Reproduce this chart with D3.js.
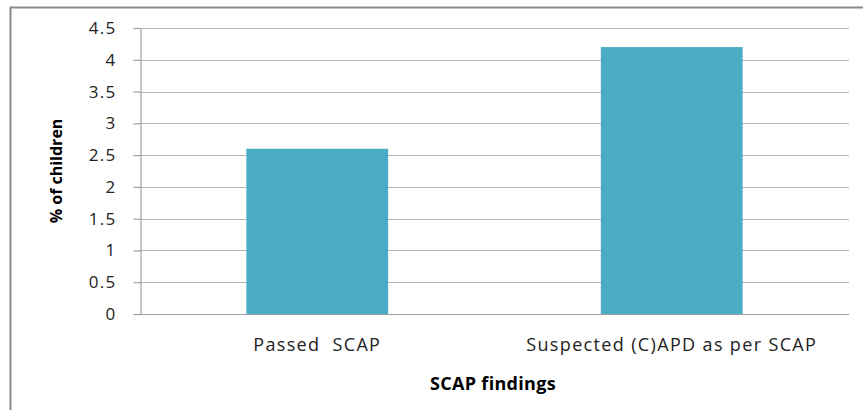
<!DOCTYPE html>
<html><head><meta charset="utf-8">
<script src="https://cdn.jsdelivr.net/npm/d3@7"></script>
<style>body{margin:0;background:#fff;} svg{display:block;}</style>
</head><body>
<script>
const categories = ["Passed  SCAP", "Suspected (C)APD as per SCAP"];
const values = [2.6, 4.2];
const yTicks = [0, 0.5, 1, 1.5, 2, 2.5, 3, 3.5, 4, 4.5];
const xTitle = "SCAP findings";
const yTitle = "% of children";

const W = 863, H = 410;
const svg = d3.select("body").append("svg").attr("width", W).attr("height", H);
const font = "'Open Sans', sans-serif";

// outer frame
svg.append("path").attr("d", `M10.5,${H} L10.5,7.5 L${W},7.5`)
  .attr("fill", "none").attr("stroke", "#8a8a8a").attr("stroke-width", 2);

const plot = {l: 140, r: 849, t: 28, b: 314};
const x = d3.scaleBand().domain(categories).range([plot.l, plot.r]).paddingInner(0.6).paddingOuter(0.3);
const y = d3.scaleLinear().domain([0, 4.5]).range([plot.b, plot.t]);

// gridlines
svg.append("g").selectAll("line").data(yTicks.filter(d => d > 0)).join("line")
  .attr("x1", plot.l).attr("x2", plot.r)
  .attr("y1", d => Math.round(y(d)) + 0.5).attr("y2", d => Math.round(y(d)) + 0.5)
  .attr("stroke", "#b4b4b4").attr("stroke-width", 1.2);

// y axis
const yAxis = d3.axisLeft(y).tickValues(yTicks).tickSize(7).tickPadding(17).tickFormat(d3.format("~g"));
const gy = svg.append("g").attr("transform", `translate(${plot.l + 0.5},0)`).call(yAxis);
gy.select(".domain").attr("stroke", "#a0a0a0").attr("stroke-width", 1.2);
gy.selectAll(".tick line").attr("stroke", "#a0a0a0").attr("stroke-width", 1.2);
gy.selectAll(".tick text").attr("font-family", font).attr("font-size", 17)
  .attr("letter-spacing", "1.3px").attr("fill", "#222");

// bars
svg.append("g").selectAll("rect").data(values).join("rect")
  .attr("x", (d, i) => x(categories[i]))
  .attr("width", x.bandwidth())
  .attr("y", d => y(d))
  .attr("height", d => y(0) - y(d))
  .attr("fill", "#4bacc6");

// x axis
const xAxis = d3.axisBottom(x).tickSize(0).tickPadding(24);
const gx = svg.append("g").attr("transform", `translate(0,${plot.b + 0.5})`).call(xAxis);
gx.select(".domain").attr("stroke", "#a0a0a0").attr("stroke-width", 1.2).attr("d", `M${plot.l},0H${plot.r}`);
gx.selectAll(".tick text").attr("font-family", font).attr("font-size", 18)
  .attr("letter-spacing", "1.35px").attr("fill", "#222").style("white-space", "pre");

// titles
svg.append("text").attr("x", 493).attr("y", 390).attr("text-anchor", "middle")
  .attr("font-family", font).attr("font-size", 18).attr("font-weight", "bold")
  .attr("letter-spacing", "0.3px").attr("fill", "#000").text(xTitle);
svg.append("text").attr("transform", `translate(62,171) rotate(-90)`).attr("text-anchor", "middle")
  .attr("font-family", font).attr("font-size", 16).attr("font-weight", "bold").attr("fill", "#000").text(yTitle);
</script>
</body></html>
